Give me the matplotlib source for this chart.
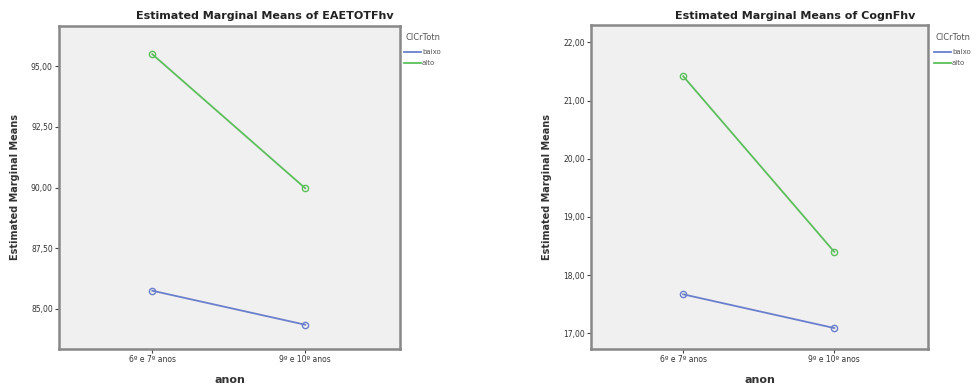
import numpy as np
import matplotlib.pyplot as plt

# categorias e medias estimadas
anos = ["6º e 7º anos", "9º e 10º anos"]
grupos = ["baixo", "alto"]
eae_baixo = [85.75, 84.35]
eae_alto = [95.49, 89.97]
cogn_baixo = [17.67, 17.09]
cogn_alto = [21.42, 18.40]
eae_ticks = [85.0, 87.5, 90.0, 92.5, 95.0]
cogn_ticks = [17.0, 18.0, 19.0, 20.0, 21.0, 22.0]

W, H = 977, 389
cores = {"baixo": "#6a7fcc", "alto": "#5cbf5c"}


def painel(fig, box, baixo, alto, ticks, ylim, titulo, title_x, leg_x):
    x0, y0, x1, y1 = box
    ax = fig.add_axes([x0 / W, 1 - y1 / H, (x1 - x0) / W, (y1 - y0) / H])
    ax.set_facecolor("#f0f0f0")
    x = np.arange(len(anos))
    for nome, vals in zip(grupos, [baixo, alto]):
        ax.plot(x, vals, color=cores[nome], lw=1.3, marker="o", ms=4.5,
                mfc="none", mec=cores[nome], mew=1.0, label=nome)
    ax.set_xlim(-0.61, 1.62)
    ax.set_ylim(*ylim)
    ax.set_xticks(x)
    ax.set_xticklabels(anos, fontsize=5.5, color="#333333")
    ax.set_yticks(ticks)
    ax.set_yticklabels([f"{t:.2f}".replace(".", ",") for t in ticks],
                       fontsize=5.5, color="#333333")
    ax.tick_params(length=3, width=0.8, color="#444444", pad=1.5)
    for s in ax.spines.values():
        s.set_color("#888888")
        s.set_linewidth(1.8)
    ax.set_xlabel("anon", fontsize=8, fontweight="bold", color="#333333", labelpad=8)
    ax.set_ylabel("Estimated Marginal Means", fontsize=7, fontweight="bold",
                  color="#333333", labelpad=8)
    fig.text(title_x / W, 1 - 16 / H, titulo, ha="center", va="center",
             fontsize=8, fontweight="bold", color="#222222")
    fig.text(leg_x / W, 1 - 37 / H, "ClCrTotn", ha="left", va="center",
             fontsize=6, color="#555555")
    ax.legend(loc="upper left", bbox_to_anchor=((leg_x - 1) / W, 1 - 49 / H),
              bbox_transform=fig.transFigure, frameon=False, fontsize=5,
              handlelength=2.4, handletextpad=0.2, labelspacing=0.75,
              borderpad=0, borderaxespad=0, markerscale=0, labelcolor="#555555")
    return ax


fig = plt.figure(figsize=(9.77, 3.89), dpi=100)
painel(fig, (59, 26, 400, 349), eae_baixo, eae_alto, eae_ticks, (83.35, 96.65),
       "Estimated Marginal Means of EAETOTFhv", 265, 405)
painel(fig, (591, 25, 928, 349), cogn_baixo, cogn_alto, cogn_ticks, (16.73, 22.30),
       "Estimated Marginal Means of CognFhv", 795, 935)
fig.savefig("out.png", dpi=100)
